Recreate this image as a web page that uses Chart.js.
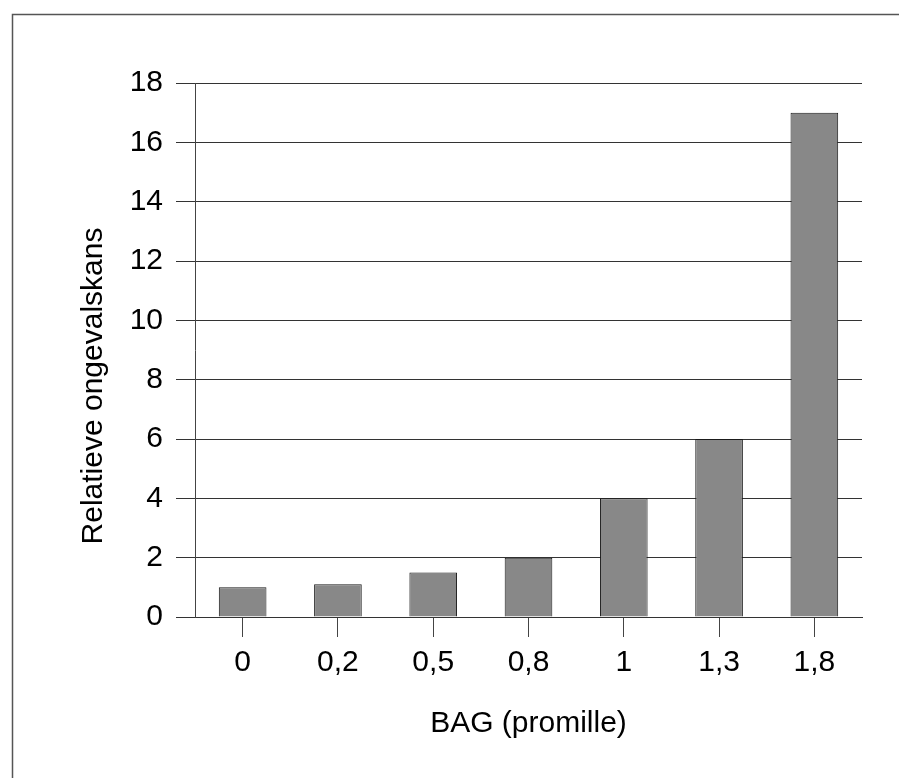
<!DOCTYPE html>
<html>
<head>
<meta charset="utf-8">
<script src="https://cdn.jsdelivr.net/npm/chart.js@4"></script>
<style>
  html, body { margin: 0; padding: 0; background: #fff; }
  #wrap { position: relative; width: 899px; height: 778px; }
</style>
</head>
<body>
<div id="wrap"><canvas id="chart" width="899" height="778"></canvas></div>
<script>
const categories = ["0", "0,2", "0,5", "0,8", "1", "1,3", "1,8"];
const values = [1, 1.1, 1.5, 2, 4, 6, 17];
const yTicks = [0, 2, 4, 6, 8, 10, 12, 14, 16, 18];
const yTitle = "Relatieve ongevalskans";
const xTitle = "BAG (promille)";

const fontFamily = "'Liberation Sans', Arial, sans-serif";

// thin frame around the whole picture (only top and left visible)
const framePlugin = {
  id: "frame",
  afterDraw(chart) {
    const ctx = chart.ctx;
    ctx.save();
    ctx.strokeStyle = "#555";
    ctx.lineWidth = 1.5;
    ctx.beginPath();
    ctx.moveTo(12.5, 790);
    ctx.lineTo(12.5, 14.5);
    ctx.lineTo(910, 14.5);
    ctx.stroke();
    ctx.restore();
  }
};

// y title sits a bit below the middle of the axis in the original
const yTitlePlugin = {
  id: "yTitle",
  afterDraw(chart) {
    const ctx = chart.ctx;
    ctx.save();
    ctx.translate(94, 386);
    ctx.rotate(-Math.PI / 2);
    ctx.fillStyle = "#000";
    ctx.font = `30px ${fontFamily}`;
    ctx.textAlign = "center";
    ctx.textBaseline = "middle";
    ctx.fillText(yTitle, 0, 0);
    ctx.restore();
  }
};

const ctx = document.getElementById("chart").getContext("2d");
new Chart(ctx, {
  type: "bar",
  data: {
    labels: categories,
    datasets: [{
      data: values,
      backgroundColor: "#888888",
      borderColor: "#1a1a1a",
      borderWidth: 1,
      barPercentage: 0.5,
      categoryPercentage: 1
    }]
  },
  options: {
    responsive: false,
    animation: false,
    layout: { padding: { left: 0, right: 37, top: 83, bottom: 0 } },
    plugins: { legend: { display: false }, tooltip: { enabled: false } },
    scales: {
      x: {
        offset: true,
        grid: {
          offset: false,
          drawOnChartArea: false,
          drawTicks: true,
          tickLength: 20,
          tickColor: "#444",
          tickWidth: 1
        },
        border: { display: true, color: "#333", width: 1 },
        ticks: {
          color: "#000",
          padding: 8,
          maxRotation: 0,
          font: { family: fontFamily, size: 30 }
        },
        title: {
          display: true,
          text: xTitle,
          color: "#000",
          padding: { top: 0, bottom: 36 },
          font: { family: fontFamily, size: 30 }
        },
        afterFit(scale) { scale.height = 161; }
      },
      y: {
        min: 0,
        max: 18,
        afterBuildTicks(scale) {
          scale.ticks = yTicks.map(v => ({ value: v }));
        },
        grid: {
          color: "#333",
          lineWidth: 1,
          drawTicks: true,
          tickLength: 19,
          tickColor: "#333"
        },
        border: { display: true, color: "#444", width: 1 },
        ticks: {
          color: "#000",
          padding: 13,
          font: { family: fontFamily, size: 30 }
        },
        afterFit(scale) { scale.width = 195; }
      }
    }
  },
  plugins: [framePlugin, yTitlePlugin]
});
</script>
</body>
</html>
